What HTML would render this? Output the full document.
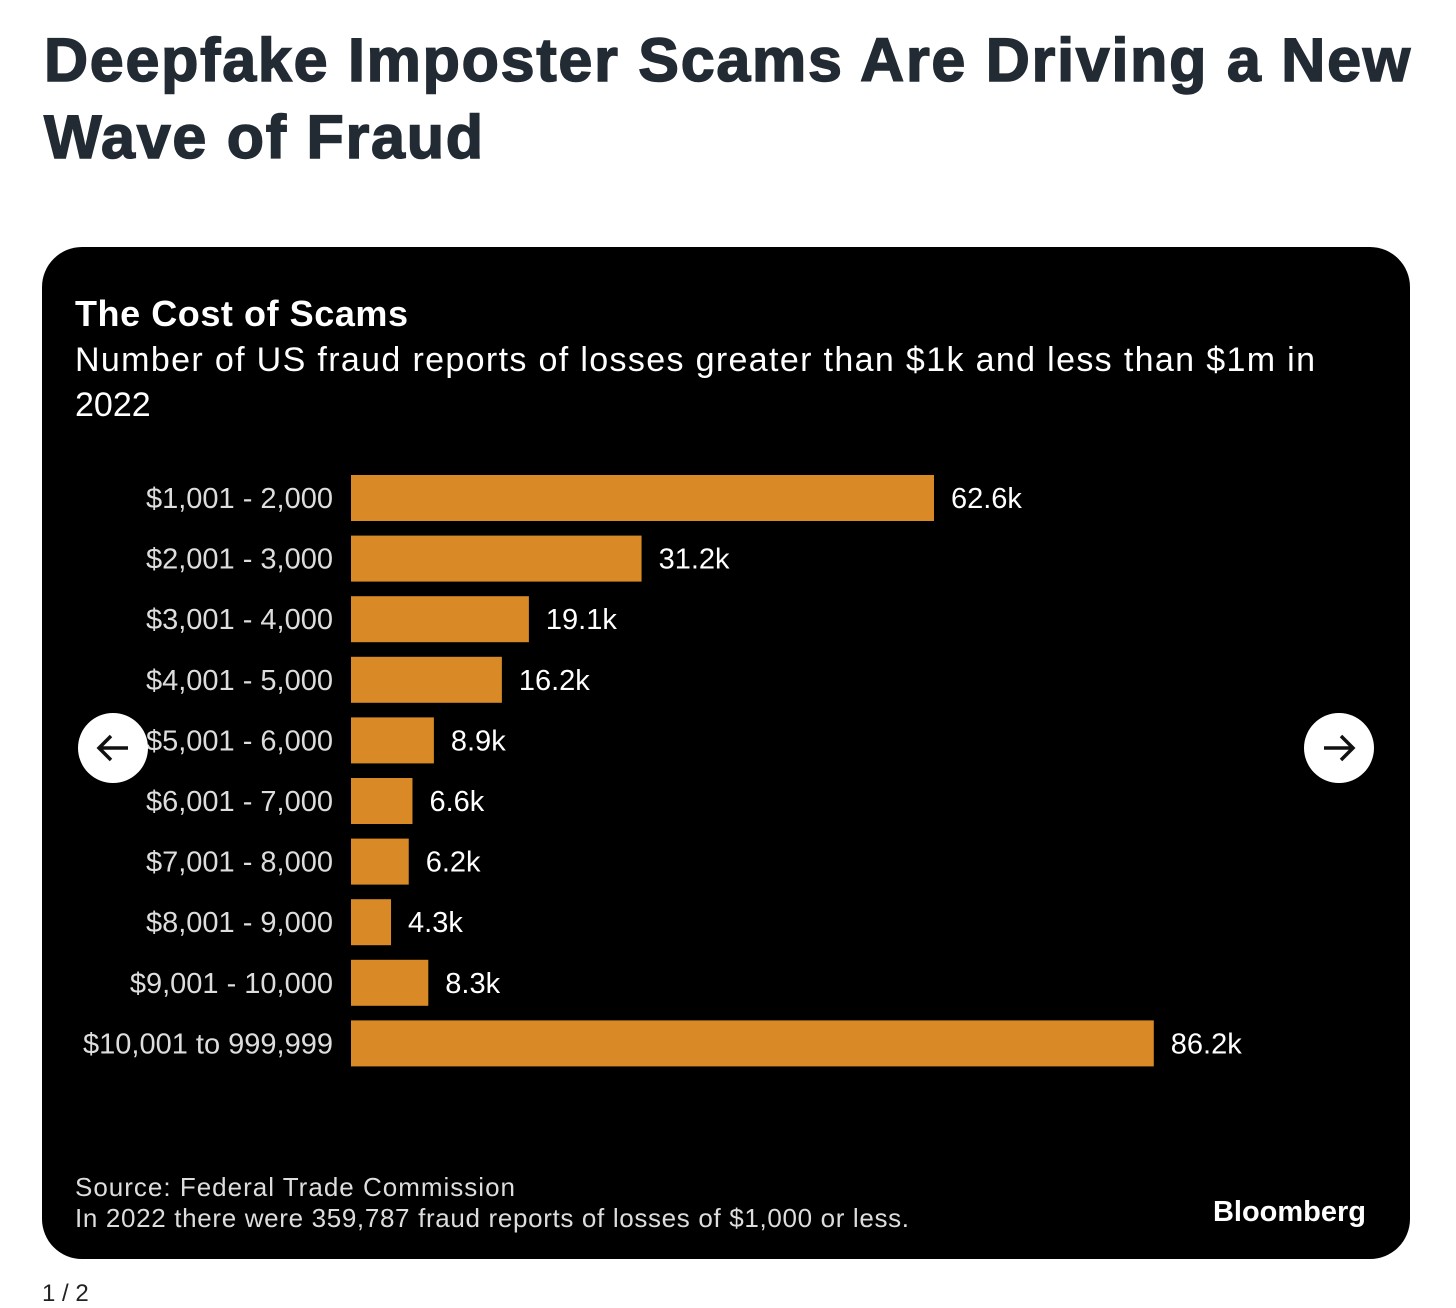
<!DOCTYPE html>
<html><head><meta charset="utf-8"><style>
body{margin:0;width:1456px;height:1301px;background:#fff;overflow:hidden;position:relative;font-family:"Liberation Sans",sans-serif}
#t{position:absolute;left:44px;top:22px;font-size:61px;font-weight:bold;color:#222a33;line-height:77px;letter-spacing:1.75px;margin:0;-webkit-text-stroke:1.5px #222a33;white-space:nowrap}
#card{position:absolute;left:42px;top:247px;width:1368px;height:1012px;background:#000;border-radius:40px}
.c{position:absolute;width:70px;height:70px;border-radius:50%;background:#fff;top:713px}
#pg{position:absolute;left:42px;top:1280px;font-size:24px;color:#222}
</style></head><body>
<h1 id="t">Deepfake Imposter Scams Are Driving a New<br>Wave of Fraud</h1>
<div id="card"></div>
<svg width="1456" height="1301" style="position:absolute;left:0;top:0" font-family="Liberation Sans, sans-serif">
<text x="75" y="326" fill="#fff" font-size="36" font-weight="bold" textLength="333">The Cost of Scams</text>
<text x="75" y="371" fill="#fff" font-size="34" textLength="1240">Number of US fraud reports of losses greater than $1k and less than $1m in</text>
<text x="75" y="416" fill="#fff" font-size="34">2022</text>
<g id="bars"></g>
<text x="75" y="1196" fill="#ddd" font-size="26" textLength="440">Source: Federal Trade Commission</text>
<text x="75" y="1227" fill="#ddd" font-size="26" textLength="834">In 2022 there were 359,787 fraud reports of losses of $1,000 or less.</text>
<text x="1366" y="1221" fill="#fff" font-size="29" font-weight="bold" text-anchor="end">Bloomberg</text>
</svg>
<div class="c" style="left:78px"><svg width="70" height="70"><path d="M50 35H21M33 23L21 35L33 47" stroke="#111" stroke-width="3.5" fill="none"/></svg></div>
<div class="c" style="left:1304px"><svg width="70" height="70"><path d="M20 35H49M37 23L49 35L37 47" stroke="#111" stroke-width="3.5" fill="none"/></svg></div>
<div id="pg">1 / 2</div>
<script>
const categories=["$1,001 - 2,000","$2,001 - 3,000","$3,001 - 4,000","$4,001 - 5,000","$5,001 - 6,000","$6,001 - 7,000","$7,001 - 8,000","$8,001 - 9,000","$9,001 - 10,000","$10,001 to 999,999"];
const values=[62.6,31.2,19.1,16.2,8.9,6.6,6.2,4.3,8.3,86.2];
const valueLabels=["62.6k","31.2k","19.1k","16.2k","8.9k","6.6k","6.2k","4.3k","8.3k","86.2k"];
const x0=351,k=9.313,y0=498,step=60.6,h=46;
const xs=v=>x0+v*k, ys=i=>y0+i*step;
const g=document.getElementById('bars'),NS='http://www.w3.org/2000/svg';
categories.forEach((c,i)=>{
 const r=document.createElementNS(NS,'rect');
 r.setAttribute('x',x0);r.setAttribute('y',ys(i)-h/2);r.setAttribute('width',xs(values[i])-x0);r.setAttribute('height',h);r.setAttribute('fill','#d98a27');
 
 
 g.appendChild(r);
 const l=document.createElementNS(NS,'text');
 l.setAttribute('x',333);l.setAttribute('y',ys(i)+10);l.setAttribute('text-anchor','end');l.setAttribute('fill','#ddd');l.setAttribute('font-size','29');l.textContent=c;
 
 
 g.appendChild(l);
 const v=document.createElementNS(NS,'text');
 v.setAttribute('x',xs(values[i])+17);v.setAttribute('y',ys(i)+10);v.setAttribute('fill','#fff');v.setAttribute('font-size','29');v.textContent=valueLabels[i];
 
 
 g.appendChild(v);
});
</script>
</body></html>
